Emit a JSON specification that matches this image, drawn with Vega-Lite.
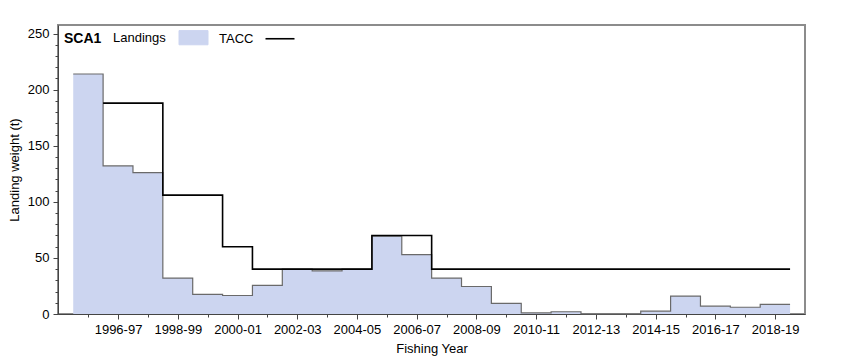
{
  "$schema": "https://vega.github.io/schema/vega-lite/v6.json",
  "width": 747,
  "height": 289,
  "autosize": {"type": "none"},
  "padding": {"left": 58, "top": 25, "right": 45, "bottom": 50},
  "background": "white",
  "config": {
    "font": "Liberation Sans",
    "view": {"stroke": "#8c8c8c", "strokeWidth": 2},
    "axis": {
      "domainColor": "#444", "tickColor": "#444", "labelColor": "#000", "titleColor": "#000",
      "labelFontSize": 13, "titleFontSize": 13, "titleFontWeight": "normal", "grid": false,
      "labelFont": "Liberation Sans", "titleFont": "Liberation Sans", "labelOverlap": false
    },
    "legend": {"labelFont": "Liberation Sans", "titleFont": "Liberation Sans"}
  },
  "data": {
    "values": [
      {"start": 1995, "fy": "1995-96", "landings": 214, "tacc": null},
      {"start": 1996, "fy": "1996-97", "landings": 132, "tacc": 188},
      {"start": 1997, "fy": "1997-98", "landings": 126, "tacc": 188},
      {"start": 1998, "fy": "1998-99", "landings": 32, "tacc": 106},
      {"start": 1999, "fy": "1999-00", "landings": 17.5, "tacc": 106},
      {"start": 2000, "fy": "2000-01", "landings": 16.5, "tacc": 60},
      {"start": 2001, "fy": "2001-02", "landings": 25.5, "tacc": 40},
      {"start": 2002, "fy": "2002-03", "landings": 40, "tacc": 40},
      {"start": 2003, "fy": "2003-04", "landings": 38.5, "tacc": 40},
      {"start": 2004, "fy": "2004-05", "landings": 40, "tacc": 40},
      {"start": 2005, "fy": "2005-06", "landings": 69.5, "tacc": 70},
      {"start": 2006, "fy": "2006-07", "landings": 53, "tacc": 70},
      {"start": 2007, "fy": "2007-08", "landings": 32, "tacc": 40},
      {"start": 2008, "fy": "2008-09", "landings": 24.5, "tacc": 40},
      {"start": 2009, "fy": "2009-10", "landings": 9.5, "tacc": 40},
      {"start": 2010, "fy": "2010-11", "landings": 1, "tacc": 40},
      {"start": 2011, "fy": "2011-12", "landings": 2, "tacc": 40},
      {"start": 2012, "fy": "2012-13", "landings": 0, "tacc": 40},
      {"start": 2013, "fy": "2013-14", "landings": 0, "tacc": 40},
      {"start": 2014, "fy": "2014-15", "landings": 2.5, "tacc": 40},
      {"start": 2015, "fy": "2015-16", "landings": 16, "tacc": 40},
      {"start": 2016, "fy": "2016-17", "landings": 7, "tacc": 40},
      {"start": 2017, "fy": "2017-18", "landings": 6, "tacc": 40},
      {"start": 2018, "fy": "2018-19", "landings": 8.5, "tacc": 40},
      {"start": 2019, "fy": "end of 2018-19", "landings": 8.5, "tacc": 40}
    ]
  },
  "encoding": {
    "x": {
      "field": "start", "type": "quantitative",
      "scale": {"domain": [1994.49, 2019.5], "nice": false, "zero": false},
      "axis": {
        "title": "Fishing Year", "titlePadding": 6,
        "values": [1995.5, 1996.5, 1997.5, 1998.5, 1999.5, 2000.5, 2001.5, 2002.5, 2003.5, 2004.5, 2005.5, 2006.5, 2007.5, 2008.5, 2009.5, 2010.5, 2011.5, 2012.5, 2013.5, 2014.5, 2015.5, 2016.5, 2017.5, 2018.5],
        "labelExpr": "floor(datum.value) % 2 == 0 ? floor(datum.value) + '-' + substring(toString(floor(datum.value) + 1), 2) : ''",
        "tickSize": {"condition": {"test": "floor(datum.value) % 2 == 0", "value": 5}, "value": 3},
        "labelPadding": 4
      }
    },
    "y": {
      "field": "landings", "type": "quantitative",
      "scale": {"domain": [0, 257.7], "nice": false},
      "axis": {
        "title": "Landing weight (t)", "titlePadding": 6,
        "values": [0, 10, 20, 30, 40, 50, 60, 70, 80, 90, 100, 110, 120, 130, 140, 150, 160, 170, 180, 190, 200, 210, 220, 230, 240, 250],
        "labelExpr": "datum.value % 50 == 0 ? datum.label : ''",
        "tickSize": {"condition": {"test": "datum.value % 50 == 0", "value": 5}, "value": 3},
        "labelPadding": 4
      }
    }
  },
  "layer": [
    {
      "mark": {"type": "area", "interpolate": "step-after"},
      "encoding": {
        "color": {
          "datum": "Landings", "type": "nominal",
          "scale": {"domain": ["Landings", "TACC"], "range": ["#ccd5f0", "#000000"]},
          "legend": {
            "title": "SCA1", "orient": "top-left", "direction": "horizontal",
            "titleOrient": "left", "titleFontSize": 14, "titleFontWeight": "bold", "titleColor": "#000",
            "titlePadding": 15, "titleBaseline": "middle",
            "labelFontSize": 13, "labelColor": "#000", "labelAlign": "left", "labelOffset": -17,
            "symbolSize": 841, "columnPadding": 9, "offset": 6, "padding": 0, "labelLimit": 200,
            "encode": {
              "symbols": {
                "update": {
                  "x": {"signal": "datum.value === 'TACC' ? 57 : 76.5"},
                  "shape": {"signal": "datum.value === 'TACC' ? 'stroke' : 'M-1,-0.49H1V0.49H-1Z'"},
                  "fill": {"signal": "datum.value === 'TACC' ? 'transparent' : '#ccd5f0'"},
                  "stroke": {"signal": "datum.value === 'TACC' ? '#000000' : '#666666'"},
                  "strokeWidth": {"signal": "datum.value === 'TACC' ? 1.6 : 1"}
                }
              }
            }
          }
        }
      }
    },
    {
      "mark": {"type": "line", "interpolate": "step-after", "stroke": "#6a6a6a", "strokeWidth": 1.2},
      "encoding": {}
    },
    {
      "mark": {"type": "line", "interpolate": "step-after", "strokeWidth": 1.6},
      "encoding": {
        "y": {"field": "tacc", "type": "quantitative"},
        "color": {"datum": "TACC", "type": "nominal"}
      }
    }
  ]
}
